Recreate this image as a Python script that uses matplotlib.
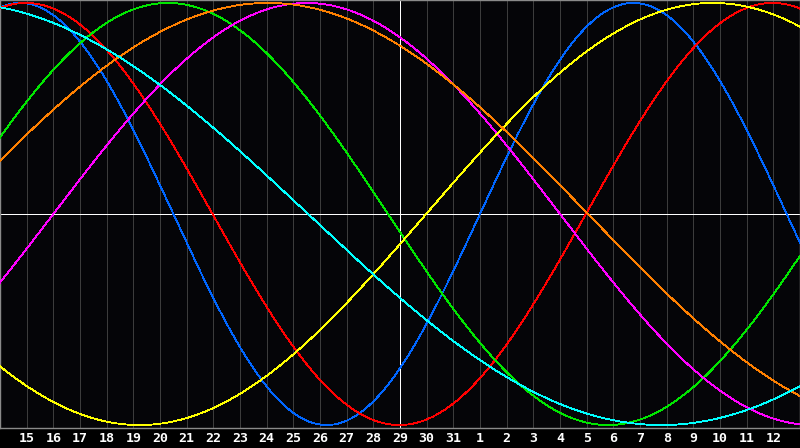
import numpy as np
import matplotlib
matplotlib.use("Agg")
import matplotlib.pyplot as plt

# Day labels on the 29 interior grid lines (index 1..29)
day_labels = [15, 16, 17, 18, 19, 20, 21, 22, 23, 24, 25, 26, 27, 28, 29, 30, 31,
              1, 2, 3, 4, 5, 6, 7, 8, 9, 10, 11, 12]

# Biorhythm cycles: period (days) and day index where each curve crosses zero upward
cycles = ["Physical", "Emotional", "Intellectual", "Intuitive", "Aesthetic", "Awareness", "Spiritual"]
periods = [23, 28, 33, 38, 43, 48, 53]
up_cross = [18.0, 21.97, -1.95, 2.0, 15.98, -1.95, -14.95]
colors = ["#0066ff", "#ff0000", "#00e600", "#ff00ff", "#ffff00", "#ff8000", "#00ffff"]

n_days = 30
today_index = 15

fig = plt.figure(figsize=(8, 4.48), dpi=100, facecolor="#000000")
ax = fig.add_axes([0, 20 / 448, 1, 428 / 448])
ax.set_facecolor("#050508")
ax.set_xlim(0, n_days)
ax.set_ylim(-1.014, 1.014)

for i in range(1, n_days):
    ax.axvline(i, color="#3c3c3c", lw=0.72, antialiased=False, zorder=1)
ax.axvline(today_index, color="#ffffff", lw=0.72, antialiased=False, zorder=2)
ax.axhline(0, color="#ffffff", lw=0.72, antialiased=False, zorder=2)

t = np.linspace(0, n_days, 1601)
for name, p, c0, col in zip(cycles, periods, up_cross, colors):
    ax.plot(t, np.sin(2 * np.pi * (t - c0) / p), color=col, lw=0.6,
            antialiased=False, zorder=3, label=name)

ax.set_yticks([])
ax.set_xticks(range(1, n_days))
ax.set_xticklabels([str(d) for d in day_labels], color="white",
                   fontfamily="DejaVu Sans Mono", fontweight="bold", fontsize=9.5)
ax.tick_params(axis="x", length=0, pad=3)
for s in ax.spines.values():
    s.set_color("#8a8a8a")
    s.set_linewidth(1.0)

fig.savefig("out.png", dpi=100, facecolor=fig.get_facecolor())
